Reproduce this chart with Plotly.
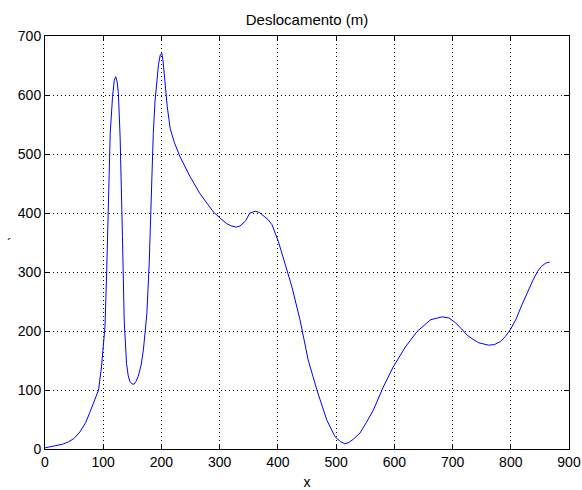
import plotly.graph_objects as go

x_vals = [0, 10, 20, 30, 40, 50, 60, 70, 77, 85, 92, 97, 100, 103, 106, 109, 112, 116, 119, 121.5, 124, 126, 129, 133, 136, 140, 143, 146, 150, 153, 156, 160, 165, 169, 175, 179, 182, 186, 189, 192, 195, 198, 200.5, 202.5, 204.5, 207, 210, 215, 222, 232, 249, 266, 289, 300, 312, 320, 329, 335, 344, 352, 361, 368, 375, 383, 390, 401, 412, 424, 438, 452, 467, 484, 498, 508, 515, 522, 530, 541, 552, 564, 581, 598, 619, 639, 662, 682, 694, 705, 715, 725, 735, 745, 762, 772, 782, 791, 799, 809, 819, 828, 838, 846, 853, 860, 867]
y_vals = [2, 4, 6, 8, 12, 18, 29, 45, 62, 82, 100, 139, 170, 207, 303, 402, 535, 597, 625, 631, 622, 603, 529, 360, 219, 145, 124, 114, 110, 110, 114, 123, 142, 168, 230, 315, 428, 535, 590, 625, 652, 668, 671, 660, 637, 605, 580, 543, 520, 495, 462, 433, 402, 392, 382, 378, 376, 378, 386, 400, 403, 401, 396, 389, 380, 351, 315, 275, 219, 151, 100, 49, 21, 12, 9, 11, 17, 27, 45, 66, 105, 139, 173, 199, 219, 224, 222, 214, 204, 193, 186, 180, 176, 177, 182, 191, 202, 220, 244, 265, 286, 301, 310, 315, 317]

x_ticks = [0, 100, 200, 300, 400, 500, 600, 700, 800, 900]
y_ticks = [0, 100, 200, 300, 400, 500, 600, 700]

FONT = "Liberation Sans, Arial"

fig = go.Figure()
fig.add_trace(go.Scatter(x=x_vals, y=y_vals, mode="lines",
                         line=dict(color="rgb(0,0,255)", width=1), showlegend=False))

axis_common = dict(
    showline=True, linecolor="black", linewidth=1, mirror="ticks",
    ticks="inside", ticklen=5, tickcolor="black", tickwidth=1,
    showgrid=True, gridcolor="black", gridwidth=1, griddash="1px,3px",
    zeroline=False, automargin=False,
    tickfont=dict(family=FONT, size=14, color="black"),
)

fig.update_xaxes(range=[0, 900], tickvals=x_ticks, **axis_common,
                 title=dict(text="x", font=dict(family=FONT, size=14, color="black"), standoff=8))
fig.update_yaxes(range=[0, 700], tickvals=y_ticks, **axis_common)

fig.add_annotation(text="´", xref="paper", yref="paper", x=-0.076, y=0.496,
                   showarrow=False, font=dict(family=FONT, size=14, color="black"))

W, H = 582, 490
fig.update_layout(
    width=W, height=H,
    margin=dict(l=45, r=13, t=36, b=41, autoexpand=False),
    paper_bgcolor="white", plot_bgcolor="white",
    title=dict(text="Deslocamento (m)", x=0.5, xanchor="center", xref="paper",
               y=1 - 20 / H, yanchor="middle", automargin=False,
               font=dict(family=FONT, size=15, color="black")),
)

fig.write_html(
    "out.html",
    config={"displayModeBar": False},
    post_script="document.body.style.margin='0';document.body.style.overflow='hidden';",
)
